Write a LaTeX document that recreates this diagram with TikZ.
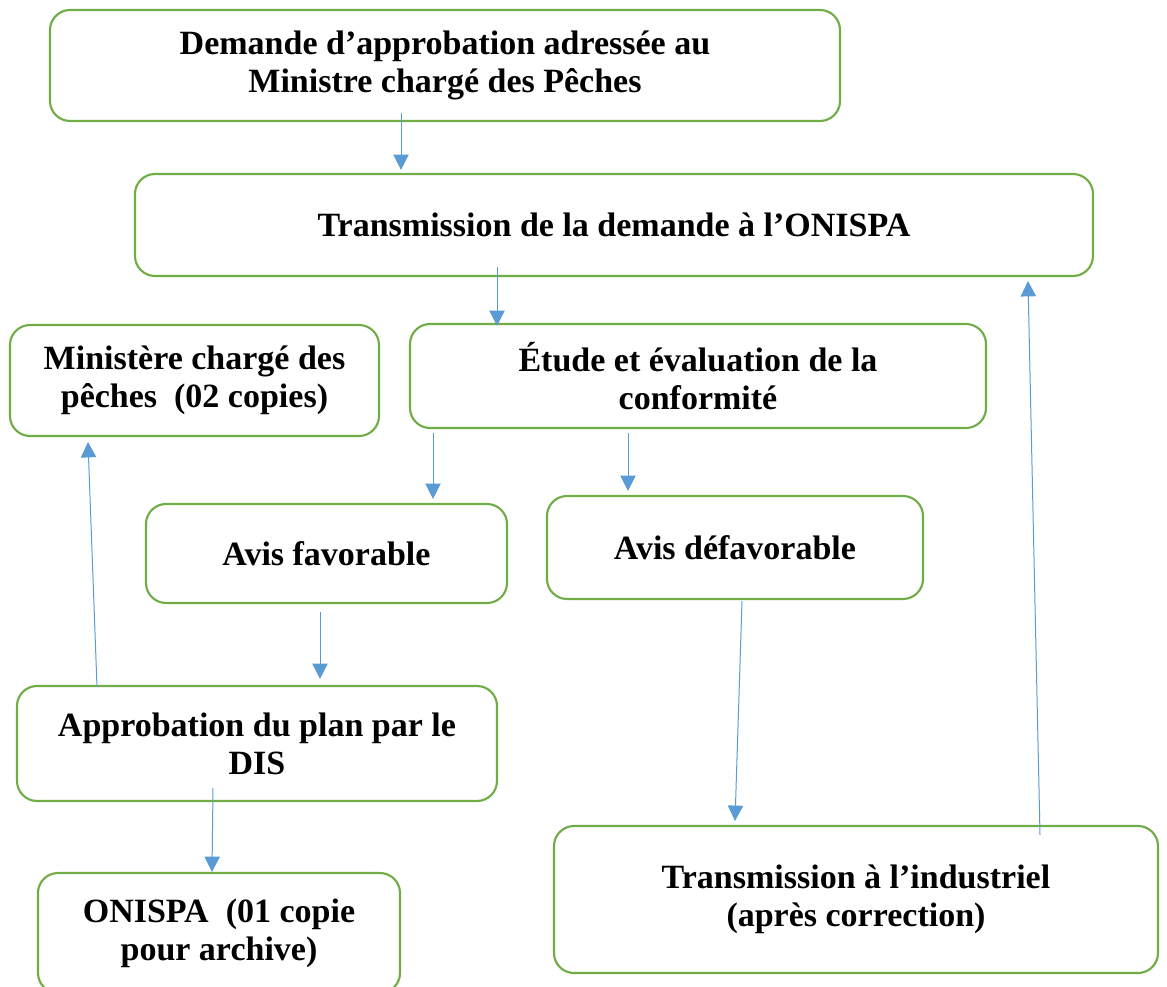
\documentclass[tikz,border=0pt]{standalone}
\usepackage{fontspec}
\setmainfont{Liberation Serif}
\usetikzlibrary{arrows.meta,calc}

\definecolor{boxgreen}{RGB}{112,173,71}
\definecolor{arrowblue}{RGB}{91,155,213}

\tikzset{every picture/.style={line width=0.75pt}}
\tikzset{
  stepbox/.style={draw=boxgreen, line width=1.6pt, rounded corners=15pt, align=center,
    inner sep=0pt, font=\fontsize{25.5}{28.5}\selectfont\bfseries},
  flow/.style={draw=arrowblue, line width=0.75pt, -{Triangle[length=11.5pt,width=11.5pt]}}
}

\begin{document}
\begin{tikzpicture}[x=0.75pt,y=0.75pt,yscale=-1,xscale=1]
%set diagram left start at 0, and has height of 987
\useasboundingbox (0,0) rectangle (1167,987);

% Boxes
\node [stepbox, minimum width=592.5pt, minimum height=83.25pt] (demande) at (445,65.5) {Demande d’approbation adressée au\\Ministre chargé des Pêches};
\node [stepbox, minimum width=718.5pt, minimum height=76.5pt] (transmission) at (614,225) {Transmission de la demande à l’ONISPA};
\node [stepbox, minimum width=276.75pt, minimum height=83.25pt] (ministere) at (194.5,380.5) {Ministère chargé des\\pêches~~(02 copies)};
\node [stepbox, minimum width=432pt, minimum height=78pt] (etude) at (698,376) {Étude et évaluation de la\\conformité};
\node [stepbox, minimum width=270.75pt, minimum height=74.25pt] (favorable) at (326.5,553.5) {Avis favorable};
\node [stepbox, minimum width=282pt, minimum height=77.25pt] (defavorable) at (735,547.5) {Avis défavorable};
\node [stepbox, minimum width=360pt, minimum height=86.25pt] (approbation) at (257,743.5) {Approbation du plan par le\\DIS};
\node [stepbox, minimum width=271.5pt, minimum height=90pt] (archive) at (219,933) {ONISPA~~(01 copie\\pour archive)};
\node [stepbox, minimum width=453pt, minimum height=110.25pt] (industriel) at (856,899.5) {Transmission à l’industriel\\(après correction)};

% Connectors
\draw [flow] ($(demande.south)+(-44,-9)$) -- ($(transmission.north)+(-213,-3)$);
\draw [flow] ($(transmission.south)+(-117,-10)$) -- ($(etude.north)+(-201,3)$);
\draw [flow] ($(etude.south)+(-265,4)$) -- ($(favorable.north)+(106.5,-4)$);
\draw [flow] ($(etude.south)+(-70,4)$) -- ($(defavorable.north)+(-107,-4)$);
\draw [flow] ($(favorable.south)+(-6.5,8)$) -- ($(approbation.north)+(63,-6)$);
\draw [flow] ($(approbation.north)+(-160,2)$) -- ($(ministere.south)+(-106.5,5)$);
\draw [flow] ($(approbation.south)+(-44,-14)$) -- ($(archive.north)+(-7,0)$);
\draw [flow] ($(defavorable.south)+(7,1)$) -- ($(industriel.north)+(-121,-4)$);
\draw [flow] ($(industriel.north)+(184,10)$) -- ($(transmission.south)+(414,4)$);

\end{tikzpicture}
\end{document}
